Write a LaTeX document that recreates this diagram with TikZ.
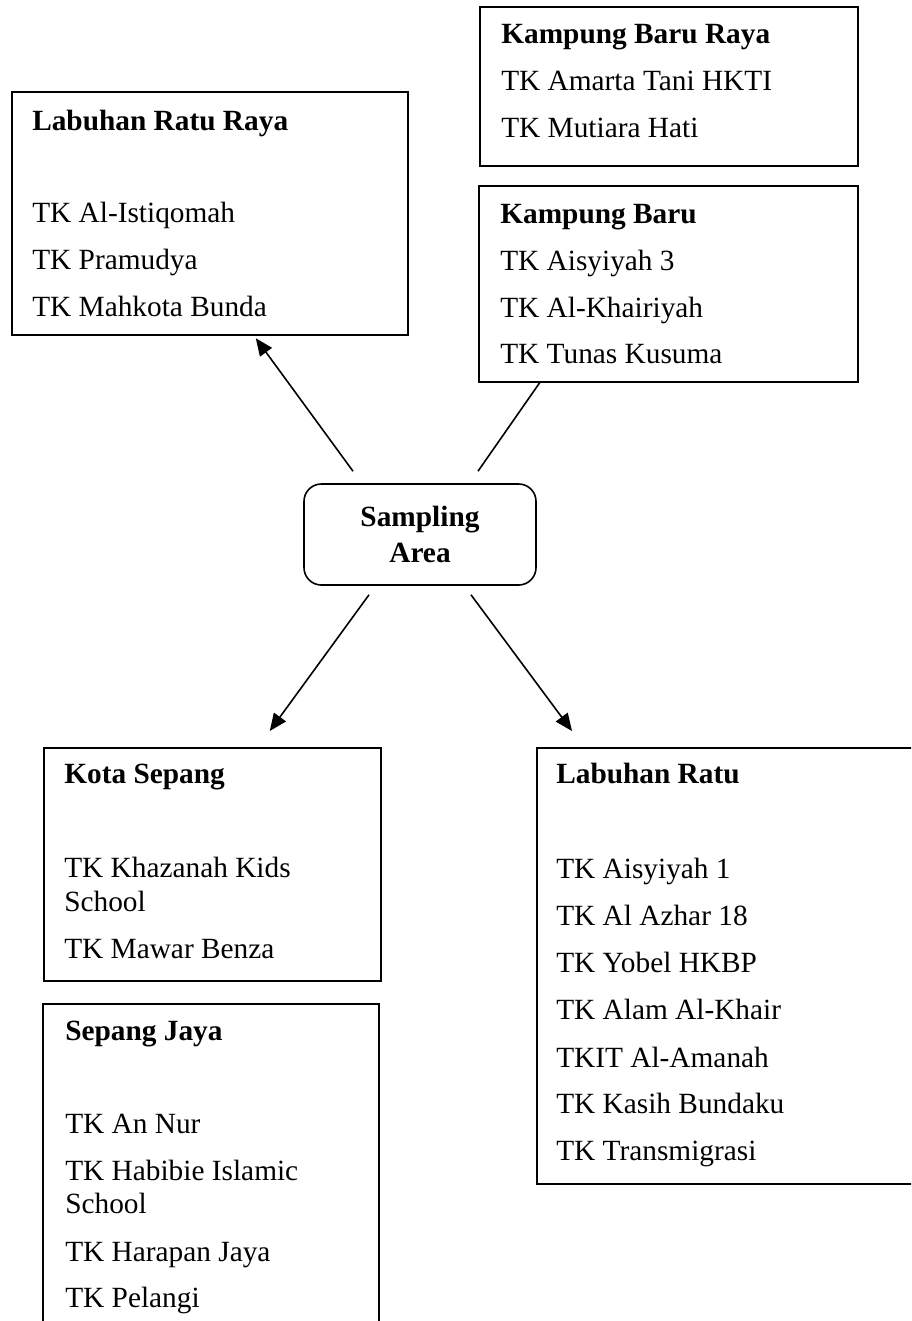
\documentclass[tikz,border=0pt]{standalone}
\usepackage{fontspec}
\setmainfont{Liberation Serif}
\usetikzlibrary{arrows.meta}

\tikzset{
  box/.style={draw,line width=1.2pt,anchor=north west,inner sep=0pt},
  areabox/.style={draw,line width=1.2pt,rounded corners=13pt,inner sep=0pt,
    minimum width=174pt,minimum height=75.75pt,align=center,
    font=\bfseries\fontsize{22pt}{27pt}\selectfont},
  item/.style={anchor=base west,inner sep=0pt},
  head/.style={item,font=\bfseries\fontsize{22pt}{26pt}\selectfont},
  arr/.style={line width=1.2pt,-{Triangle[length=13pt,width=11pt]}},
  link/.style={line width=1.2pt}
}

\begin{document}
\begin{tikzpicture}[x=.75pt,y=-.75pt,font=\fontsize{22pt}{26pt}\selectfont]
\clip (0,0) rectangle (911,1321);
% boxes
\node[box,minimum width=297pt,minimum height=182.25pt] (lrr) at (11,91) {};
\node[box,minimum width=283.5pt,minimum height=119.25pt] (kbr) at (479,6) {};
\node[box,minimum width=284.25pt,minimum height=147pt] (kb) at (478,185) {};
\node[areabox] (area) at (420,534.5) {Sampling\\Area};
\node[box,minimum width=252.75pt,minimum height=174.75pt] (ks) at (43,747) {};
\node[box,minimum width=252pt,minimum height=267.75pt] (sj) at (42,1003) {};
\node[box,minimum width=303pt,minimum height=327pt] (lr) at (536,747) {};
% Labuhan Ratu Raya
\node[head] (lrr-t) at (32,130) {Labuhan Ratu Raya};
\node[item] (lrr-1) at (32,222) {TK Al-Istiqomah};
\node[item] (lrr-2) at (32,269) {TK Pramudya};
\node[item] (lrr-3) at (32,316) {TK Mahkota Bunda};
% Kampung Baru Raya
\node[head] (kbr-t) at (501,43) {Kampung Baru Raya};
\node[item] (kbr-1) at (501,90) {TK Amarta Tani HKTI};
\node[item] (kbr-2) at (501,137) {TK Mutiara Hati};
% Kampung Baru
\node[head] (kb-t) at (500,223) {Kampung Baru};
\node[item] (kb-1) at (500,270) {TK Aisyiyah 3};
\node[item] (kb-2) at (500,317) {TK Al-Khairiyah};
\node[item] (kb-3) at (500,363) {TK Tunas Kusuma};
% Kota Sepang
\node[head] (ks-t) at (64,783) {Kota Sepang};
\node[item] (ks-1) at (64,877) {TK Khazanah Kids};
\node[item] (ks-1b) at (64,911) {School};
\node[item] (ks-2) at (64,958) {TK Mawar Benza};
% Sepang Jaya
\node[head] (sj-t) at (65,1040) {Sepang Jaya};
\node[item] (sj-1) at (65,1133) {TK An Nur};
\node[item] (sj-2) at (65,1180) {TK Habibie Islamic};
\node[item] (sj-2b) at (65,1213) {School};
\node[item] (sj-3) at (65,1261) {TK Harapan Jaya};
\node[item] (sj-4) at (65,1307) {TK Pelangi};
% Labuhan Ratu
\node[head] (lr-t) at (556,783) {Labuhan Ratu};
\node[item] (lr-1) at (556,878) {TK Aisyiyah 1};
\node[item] (lr-2) at (556,925) {TK Al Azhar 18};
\node[item] (lr-3) at (556,972) {TK Yobel HKBP};
\node[item] (lr-4) at (556,1019) {TK Alam Al-Khair};
\node[item] (lr-5) at (556,1067) {TKIT Al-Amanah};
\node[item] (lr-6) at (556,1113) {TK Kasih Bundaku};
\node[item] (lr-7) at (556,1160) {TK Transmigrasi};
% connectors
\draw[arr] ([xshift=-50.25pt,yshift=9pt]area.north) -- ([xshift=34.5pt,yshift=-2pt]lrr.south);
\draw[link] ([xshift=43.5pt,yshift=9pt]area.north) -- ([xshift=-96.4pt]kb.south);
\draw[arr] ([xshift=-38.25pt,yshift=-6.75pt]area.south) -- ([xshift=43.1pt,yshift=12pt]ks.north);
\draw[arr] ([xshift=38.25pt,yshift=-6.75pt]area.south) -- ([xshift=27pt,yshift=12pt]lr.north west);
\end{tikzpicture}
\end{document}
